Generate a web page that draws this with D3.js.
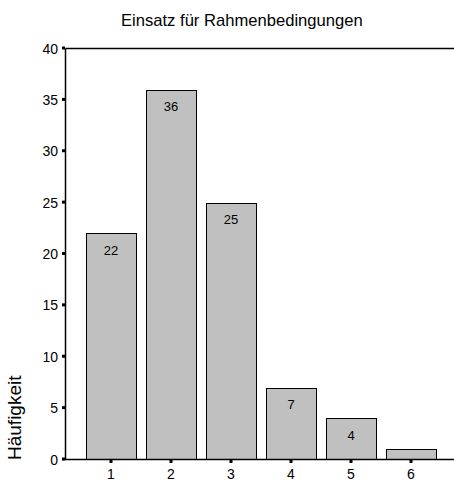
<!DOCTYPE html>
<html><head><meta charset="utf-8">
<script src="https://cdn.jsdelivr.net/npm/d3@7/dist/d3.min.js"></script>
<style>body{margin:0;background:#fff}svg{display:block}text{font-family:Arial,"Liberation Sans",sans-serif}</style>
</head><body>
<svg id="c" width="454" height="481"></svg>
<script>
const categories = ["1","2","3","4","5","6"];
const values = [22,36,25,7,4,1];
const yTicks = [0,5,10,15,20,25,30,35,40];
const title = "Einsatz für Rahmenbedingungen";
const yLabel = "Häufigkeit";

(function(){
const svg = d3.select("#c");
const pLeft = 65.5, pRight = 470, pTop = 48.5, pBottom = 459.5;
const x = d3.scaleBand().domain(categories).range([81, 441]).paddingInner(10/60).paddingOuter(0.0833);
const y = d3.scaleLinear().domain([0, 40]).range([pBottom, pTop]);
const data = categories.map((c, i) => ({c, v: values[i]}));

svg.append("text").attr("x", 121).attr("y", 26).attr("font-size", 16.6).attr("fill", "#000").text(title);

svg.append("line").attr("x1", pLeft).attr("x2", pRight).attr("y1", pTop).attr("y2", pTop).attr("stroke", "#000").attr("stroke-width", 1.5);
svg.append("line").attr("x1", pLeft).attr("x2", pLeft).attr("y1", pTop).attr("y2", pBottom).attr("stroke", "#000").attr("stroke-width", 1.5);

const g = svg.append("g");
g.selectAll("rect").data(data).join("rect")
  .attr("x", d => Math.round(x(d.c)) + 0.5)
  .attr("width", Math.round(x.bandwidth()))
  .attr("y", d => Math.round(y(d.v)) + 0.5)
  .attr("height", d => pBottom - Math.round(y(d.v)) - 0.5)
  .attr("fill", "#c0c0c0").attr("stroke", "#000").attr("stroke-width", 1);

g.selectAll("text.v").data(data.filter(d => d.v >= 2)).join("text").attr("class","v")
  .attr("x", d => x(d.c) + x.bandwidth()/2)
  .attr("y", d => y(d.v) + 21.5)
  .attr("text-anchor", "middle").attr("font-size", 13).attr("fill", "#000")
  .text(d => d.v);

svg.append("line").attr("x1", 62).attr("x2", pRight).attr("y1", pBottom).attr("y2", pBottom).attr("stroke", "#000").attr("stroke-width", 1.5);

const yg = svg.append("g");
yTicks.forEach(t => {
  yg.append("rect").attr("x", 62).attr("y", y(t) - 2).attr("width", 3).attr("height", 3).attr("fill", "#000");
  yg.append("text").attr("x", 58).attr("y", y(t) + 5).attr("text-anchor", "end").attr("font-size", 14).attr("fill", "#000").text(t);
});

categories.forEach(c => {
  const cx = x(c) + x.bandwidth()/2;
  svg.append("rect").attr("x", cx - 1.5).attr("y", pBottom + 0.5).attr("width", 3).attr("height", 3).attr("fill", "#000");
  svg.append("text").attr("x", cx).attr("y", 479).attr("text-anchor", "middle").attr("font-size", 14).attr("fill", "#000").text(c);
});

svg.append("text").attr("transform", "translate(21,460) rotate(-90)").attr("text-anchor", "start").attr("font-size", 19).attr("fill", "#000").text(yLabel);
})();
</script>
</body></html>
